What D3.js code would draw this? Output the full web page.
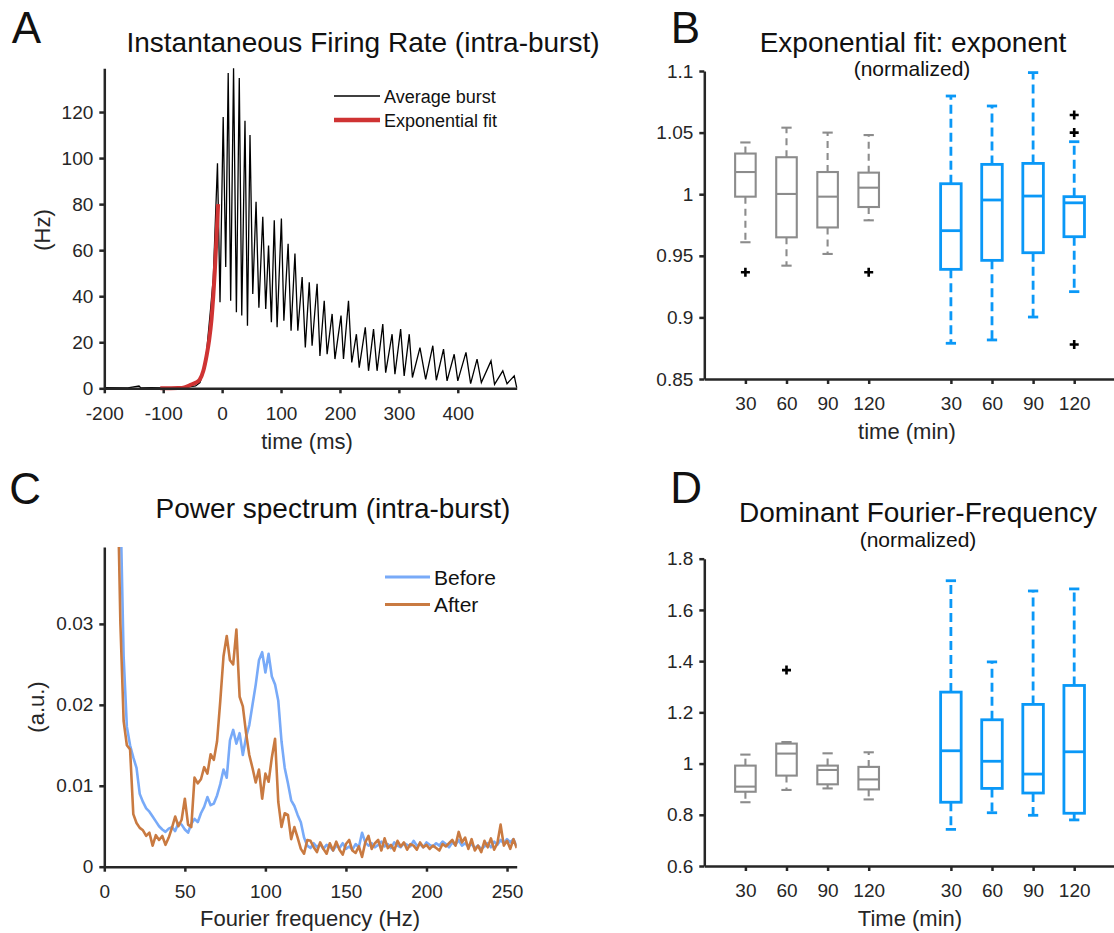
<!DOCTYPE html>
<html>
<head>
<meta charset="utf-8">
<script src="https://cdn.jsdelivr.net/npm/d3@7"></script>
<style>
  body { margin: 0; background: #fff; }
  text { font-family: 'Liberation Sans', Arial, sans-serif; }
</style>
</head>
<body>
<script>
// ---------- data ----------

// A: average burst, [time (ms), rate (Hz)] at peaks and troughs
const averageBurst = [
  [-200, 0.3], [-160, 0.2], [-141, 1], [-138, 0.2], [-120, 0.3], [-100, 0.2],
  [-80, 0.3], [-60, 0.5], [-45, 1], [-37.6, 2.5], [-28.5, 10], [-19.4, 35],
  [-15, 48], [-7.9, 97.7], [-3.6, 37.4], [1.8, 117.8], [6.1, 52.7], [10.3, 137],
  [14.5, 38], [19.4, 139], [24.2, 33], [29.1, 134.8], [33.3, 31.6], [38.8, 116.2],
  [43, 27.2], [47.3, 110], [52, 41], [57.6, 81], [62.4, 35], [69, 74.5],
  [74, 34.5], [78.8, 62], [83.6, 28.7], [88.5, 73], [93.3, 26.5], [100.6, 73.7],
  [104.8, 29.4], [112, 62.8], [117, 25], [123.6, 58.5], [128.5, 25], [135.8, 48.3],
  [141.2, 17.7], [147.9, 46], [152.7, 18.5], [161.2, 45.4], [166, 14], [173.3, 38],
  [178.2, 14.8], [186.7, 32.3], [191.5, 12.7], [201.8, 31.6], [206, 12.7], [214.5, 38],
  [220, 11.2], [227.9, 23.5], [232.7, 9], [243, 26.5], [248.5, 7.6], [257, 25.7],
  [263, 7.6], [272.7, 27.9], [277.6, 6.8], [288.5, 23.5], [293.3, 6.1], [303, 25.7],
  [309, 5.4], [317.6, 23.5], [323, 4.7], [335.8, 17.7], [345.5, 3.9], [357.6, 18.5],
  [363.6, 3.5], [375.8, 17], [381.8, 3.2], [393.9, 14.8], [400, 3.2], [413.9, 15.6],
  [421.8, 2], [432.7, 12.7], [440, 2.5], [456.4, 11.9], [462.4, 1.7], [476.4, 7.6],
  [483.6, 2], [495.8, 5.4], [500, 0.3]
]

// A: exponential fit of the rising phase
const expFit = [
  [-105, 0], [-90, 0.05], [-75, 0.15], [-66, 0.3], [-55, 1.3], [-45, 2.4],
  [-38, 3.8], [-32, 7.5], [-26.5, 14], [-22, 21], [-18, 30], [-15, 40],
  [-12.4, 51], [-9.5, 66], [-6.8, 80]
]

const burstTicksX = [-200, -100, 0, 100, 200, 300, 400]
const burstTicksY = [0, 20, 40, 60, 80, 100, 120]

// C: power spectrum (values in units of 1e-3)
const freqs = [
  8, 10, 12, 14, 16, 18, 20, 22, 24, 26,
  28, 30, 32, 34, 36, 38, 40, 42, 44, 46,
  48, 50, 52, 54, 56, 58, 60, 62, 64, 66,
  68, 70, 72, 74, 76, 78, 80, 82, 84, 86,
  88, 90, 92, 94, 96, 98, 100, 102, 104, 106,
  108, 110, 112, 114, 116, 118, 120, 122, 124, 126,
  128, 130, 132, 134, 136, 138, 140, 142, 144, 146,
  148, 150, 152, 154, 156, 158, 160, 162, 164, 166,
  168, 170, 172, 174, 176, 178, 180, 182, 184, 186,
  188, 190, 192, 194, 196, 198, 200, 202, 204, 206,
  208, 210, 212, 214, 216, 218, 220, 222, 224, 226,
  228, 230, 232, 234, 236, 238, 240, 242, 244, 246,
  248, 250, 252, 254, 256
]
const powerBefore = [
  70, 45, 26, 17.3, 15, 13.5, 12.2, 9, 8, 7.2,
  6.8, 6.2, 5.6, 5.0, 4.6, 4.3, 4.7, 4.9, 4.4, 5.4,
  5.2, 4.6, 4.2, 5.3, 5.9, 5.5, 6.6, 7.4, 8.6, 7.6,
  7.8, 8.8, 10.2, 12, 11, 15.6, 16.9, 15.2, 16.5, 13.8,
  16, 17.5, 20, 22.5, 25.5, 26.5, 24, 26.3, 23.5, 22.5,
  20.5, 15.5, 12.2, 10.3, 8.2, 7.5, 6.4, 5.5, 3.6, 2.6,
  2.3, 2.9, 2.4, 2.8, 2.2, 2.7, 2.5, 2.0, 2.6, 2.3,
  2.9, 2.2, 2.5, 2.1, 2.8, 2.4, 4.2, 3.0, 2.6, 2.9,
  2.4, 2.7, 3.1, 2.5, 2.8, 2.3, 3.0, 2.6, 2.4, 2.9,
  2.7, 2.5, 3.2, 2.6, 2.8, 2.4, 3.0, 2.7, 2.5, 2.9,
  2.6, 3.1, 2.8, 2.4, 3.0, 2.7, 3.3, 2.6, 2.9, 2.5,
  2.8, 2.3, 2.6, 2.2, 2.5, 2.9, 2.4, 3.1, 2.7, 3.3,
  2.9, 3.4, 3.0, 3.4, 2.5
]
const powerAfter = [
  50, 30, 18, 15, 14.5, 6.5, 5.4, 4.8, 4.5, 3.8,
  4.2, 2.6, 3.9, 3.3, 3.8, 2.7, 3.6, 4.8, 6.2, 5.0,
  5.8, 8.4, 5.2, 4.9, 11, 10.3, 10.8, 12.3, 11.5, 13.9,
  13.2, 15.5, 20.5, 26, 28.5, 25.5, 25, 29.3, 21, 19.8,
  16.5, 13.8, 12.2, 10.4, 12, 8.4, 11.5, 10.5, 13.5, 15.8,
  8, 4.9, 6.6, 6.4, 3.4, 4.9, 3.6, 2.2, 1.6, 3.3,
  3.2, 2.4, 1.8, 3.0, 2.2, 1.6, 2.9, 2.0, 3.1, 2.1,
  1.5, 2.8, 3.3, 2.0, 1.7, 2.5, 1.2, 3.0, 3.8, 2.2,
  2.9, 3.3, 2.0, 3.5, 2.3, 2.7, 2.0, 3.2, 2.5, 3.0,
  2.1, 2.8, 2.6, 2.1, 3.0, 2.4, 2.7, 2.2, 2.6, 2.3,
  2.0, 2.8, 2.5, 2.9, 3.3, 2.6, 4.3, 3.0, 3.6, 2.2,
  3.4, 2.0, 2.6, 1.8, 3.2, 2.4, 3.5, 2.1, 2.9, 5.2,
  2.6, 3.2, 2.2, 3.4, 2.3
]
const spectrumTicksX = [0, 50, 100, 150, 200, 250]
const spectrumTicksY = [0, 0.01, 0.02, 0.03]

// B and D: boxplots at positions 1-4 (control) and 6-9 (treated)
const boxPositions = [1, 2, 3, 4, 6, 7, 8, 9]
const timeLabels = ['30', '60', '90', '120', '30', '60', '90', '120']

const expLow = [0.961, 0.942, 0.9515, 0.9788, 0.879, 0.8817, 0.9003, 0.9209]
const expQ1 = [0.998, 0.965, 0.973, 0.9896, 0.939, 0.9463, 0.9525, 0.9655]
const expMedian = [1.018, 1.0002, 0.998, 1.0053, 0.9704, 0.9953, 0.9985, 0.993]
const expQ3 = [1.033, 1.03, 1.018, 1.0175, 1.0085, 1.0242, 1.025, 0.998]
const expHigh = [1.042, 1.054, 1.05, 1.048, 1.0797, 1.0716, 1.0987, 1.0426]
const expOutliers = [[1, 0.9366], [4, 0.9366], [9, 1.0643], [9, 1.05], [9, 0.878]]
const expTicksY = [0.85, 0.9, 0.95, 1, 1.05, 1.1]

const freqLow = [0.849, 0.897, 0.903, 0.86, 0.743, 0.808, 0.798, 0.78]
const freqQ1 = [0.89, 0.953, 0.919, 0.899, 0.849, 0.903, 0.885, 0.806]
const freqMedian = [0.91, 1.039, 0.975, 0.938, 1.05, 1.009, 0.959, 1.046]
const freqQ3 = [0.992, 1.078, 0.992, 0.987, 1.279, 1.171, 1.231, 1.305]
const freqHigh = [1.035, 1.084, 1.04, 1.044, 1.714, 1.397, 1.674, 1.682]
const freqOutliers = [[2, 1.365]]
const freqTicksY = [0.6, 0.8, 1, 1.2, 1.4, 1.6, 1.8]

// ---------- drawing ----------
const axisColor = '#262626'
const grey = '#8c8c8c'
const blue = '#0a98f7'

const svg = d3
  .select('body')
  .append('svg')
  .attr('width', 1114)
  .attr('height', 933)

function styleAxis(g) {
  g.attr('font-size', 19).attr('font-family', "'Liberation Sans', Arial, sans-serif")
  g.selectAll('.domain').attr('stroke', axisColor).attr('stroke-width', 2.5)
  g.selectAll('.tick line').attr('stroke', axisColor).attr('stroke-width', 2.5)
  g.selectAll('.tick text').attr('fill', axisColor)
}

function drawAxes(x, y, xTicks, yTicks, xFmt, yFmt) {
  const [y0] = y.range()
  const [x0] = x.range()
  svg
    .append('g')
    .attr('transform', 'translate(0,' + y0 + ')')
    .call(
      d3.axisBottom(x).tickValues(xTicks).tickFormat(xFmt)
        .tickSizeInner(5).tickSizeOuter(0).tickPadding(13)
    )
    .call(styleAxis)
  svg
    .append('g')
    .attr('transform', 'translate(' + x0 + ',0)')
    .call(
      d3.axisLeft(y).tickValues(yTicks).tickFormat(yFmt)
        .tickSizeInner(5).tickSizeOuter(0).tickPadding(6)
    )
    .call(styleAxis)
}

function addText(x, y, str, size, anchor) {
  return svg
    .append('text')
    .attr('x', x)
    .attr('y', y)
    .attr('font-size', size)
    .attr('text-anchor', anchor || 'middle')
    .attr('fill', '#111')
    .text(str)
}

function addYLabel(x, y, str) {
  svg
    .append('text')
    .attr('transform', 'translate(' + x + ',' + y + ') rotate(-90)')
    .attr('dy', '0.35em')
    .attr('text-anchor', 'middle')
    .attr('font-size', 22)
    .attr('fill', axisColor)
    .text(str)
}

const trimNum = d => String(+d.toFixed(2))

// ----- Panel A -----
const xA = d3.scaleLinear().domain([-200, 500]).range([104.3, 516.7])
const yA = d3.scaleLinear().domain([0, 139]).range([388.3, 68.3])

const lineA = d3.line().x(d => xA(d[0])).y(d => yA(d[1]))

svg
  .append('path')
  .datum(averageBurst)
  .attr('d', lineA)
  .attr('fill', 'none')
  .attr('stroke', '#000')
  .attr('stroke-width', 1.3)

svg
  .append('path')
  .datum(expFit)
  .attr('d', lineA.curve(d3.curveMonotoneX))
  .attr('fill', 'none')
  .attr('stroke', '#cf3333')
  .attr('stroke-width', 4)

drawAxes(xA, yA, burstTicksX, burstTicksY, d => d, d => d)

addText(44, 43, 'A', 44, 'end').attr('x', 41)
addText(363, 52, 'Instantaneous Firing Rate (intra-burst)', 28)
addText(307, 449, 'time (ms)', 22).attr('fill', axisColor)
addYLabel(42, 230, '(Hz)')

// legend A
const legendA = [
  { label: 'Average burst', color: '#000', width: 1.3 },
  { label: 'Exponential fit', color: '#cf3333', width: 4.5 }
]
legendA.forEach((d, i) => {
  const ly = 96 + i * 24
  svg.append('line')
    .attr('x1', 334).attr('x2', 380).attr('y1', ly).attr('y2', ly)
    .attr('stroke', d.color).attr('stroke-width', d.width)
  addText(384, ly + 6.5, d.label, 18, 'start')
})

// ----- Panel C -----
const xC = d3.scaleLinear().domain([0, 256]).range([104.3, 516.7])
const yC = d3.scaleLinear().domain([0, 0.0395]).range([866.7, 547])

svg.append('clipPath').attr('id', 'clip-c')
  .append('rect')
  .attr('x', 104.3).attr('y', 547)
  .attr('width', 516.7 - 104.3).attr('height', 866.7 - 547)

const lineC = d3.line().x((d, i) => xC(freqs[i])).y(d => yC(d / 1000))

const spectra = [
  { label: 'Before', values: powerBefore, color: '#78aaf8' },
  { label: 'After', values: powerAfter, color: '#c97a41' }
]

spectra.forEach(s => {
  svg.append('path')
    .datum(s.values)
    .attr('clip-path', 'url(#clip-c)')
    .attr('d', lineC)
    .attr('fill', 'none')
    .attr('stroke', s.color)
    .attr('stroke-width', 2.6)
    .attr('stroke-linejoin', 'round')
})

drawAxes(xC, yC, spectrumTicksX, spectrumTicksY, d => d, trimNum)

addText(41, 504, 'C', 44, 'end')
addText(333, 518, 'Power spectrum (intra-burst)', 28)
addText(310, 926, 'Fourier frequency (Hz)', 22).attr('fill', axisColor)
addYLabel(36, 707, '(a.u.)')

spectra.forEach((s, i) => {
  const ly = 577 + i * 27.5
  svg.append('line')
    .attr('x1', 385).attr('x2', 430).attr('y1', ly).attr('y2', ly)
    .attr('stroke', s.color).attr('stroke-width', 2.8)
  addText(434, ly + 7.5, s.label, 21, 'start')
})

// ----- Boxplots (B, D) -----
function drawBoxes(y, low, q1, med, q3, high, outliers) {
  const x = d3.scaleLinear().domain([0, 10]).range([704.3, 1115.3])
  const half = x(0.25) - x(0)
  const capHalf = x(0.125) - x(0)

  boxPositions.forEach((p, i) => {
    const isCtrl = p < 5
    const color = isCtrl ? grey : blue
    const sw = isCtrl ? 2.1 : 2.8
    const dash = isCtrl ? '7,5' : '9,5'
    const cx = x(p)
    const g = svg.append('g').attr('stroke', color).attr('fill', 'none').attr('stroke-width', sw)

    g.append('line').attr('x1', cx).attr('x2', cx)
      .attr('y1', y(q3[i])).attr('y2', y(high[i])).attr('stroke-dasharray', dash)
    g.append('line').attr('x1', cx).attr('x2', cx)
      .attr('y1', y(q1[i])).attr('y2', y(low[i])).attr('stroke-dasharray', dash)

    ;[low[i], high[i]].forEach(v => {
      g.append('line').attr('x1', cx - capHalf).attr('x2', cx + capHalf)
        .attr('y1', y(v)).attr('y2', y(v))
    })

    g.append('rect')
      .attr('x', cx - half).attr('width', 2 * half)
      .attr('y', y(q3[i])).attr('height', y(q1[i]) - y(q3[i]))

    g.append('line').attr('x1', cx - half).attr('x2', cx + half)
      .attr('y1', y(med[i])).attr('y2', y(med[i]))
  })

  outliers.forEach(o => {
    const ox = x(o[0])
    const oy = y(o[1])
    svg.append('path')
      .attr('d', 'M' + (ox - 4.5) + ',' + oy + 'H' + (ox + 4.5) + 'M' + ox + ',' + (oy - 4.5) + 'V' + (oy + 4.5))
      .attr('stroke', '#000').attr('stroke-width', 2.6)
  })

  return x
}

// ----- Panel B -----
const yB = d3.scaleLinear().domain([0.85, 1.1]).range([379, 71])
const xB = drawBoxes(yB, expLow, expQ1, expMedian, expQ3, expHigh, expOutliers)
drawAxes(xB, yB, boxPositions, expTicksY, (d, i) => timeLabels[i], trimNum)

addText(700, 43, 'B', 44, 'end')
addText(913, 52, 'Exponential fit: exponent', 28)
addText(912, 76, '(normalized)', 21)
addText(907, 439, 'time (min)', 22).attr('fill', axisColor)

// ----- Panel D -----
const yD = d3.scaleLinear().domain([0.6, 1.8]).range([866, 558.7])
const xD = drawBoxes(yD, freqLow, freqQ1, freqMedian, freqQ3, freqHigh, freqOutliers)
drawAxes(xD, yD, boxPositions, freqTicksY, (d, i) => timeLabels[i], trimNum)

addText(702, 503, 'D', 44, 'end')
addText(918, 522, 'Dominant Fourier-Frequency', 28)
addText(918, 547, '(normalized)', 21)
addText(910, 926, 'Time (min)', 22).attr('fill', axisColor)
</script>
</body>
</html>
